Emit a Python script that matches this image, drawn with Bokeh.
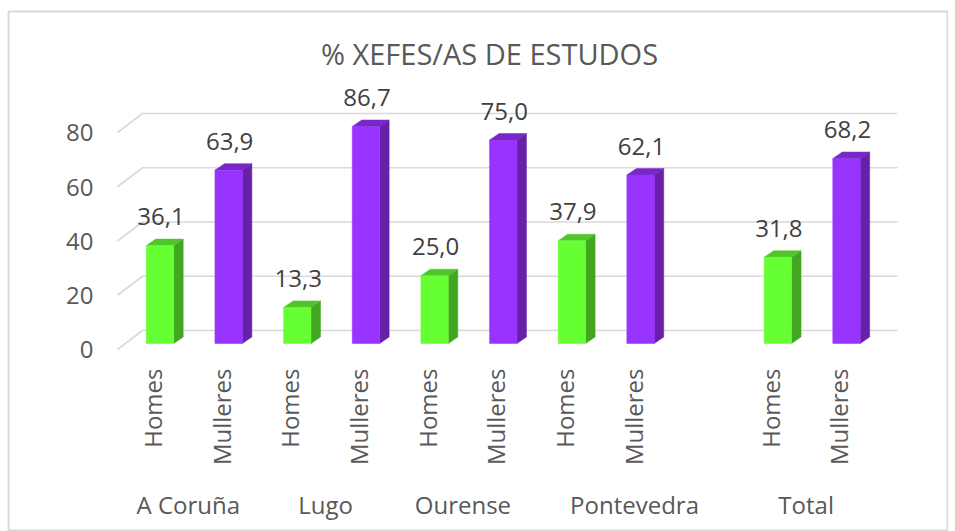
from bokeh.plotting import figure
from bokeh.models import Range1d
from bokeh.core.properties import value
from bokeh.embed import file_html
from bokeh.resources import INLINE
import math

# ---- data ----
title_text = "% XEFES/AS DE ESTUDOS"
groups = ["A Coruña", "Lugo", "Ourense", "Pontevedra", "Total"]
group_slots = [2, 2, 2, 3, 2]          # Pontevedra carries an empty category
sexes = ["Homes", "Mulleres"]
homes = [36.1, 13.3, 25.0, 37.9, 31.8]
mulleres = [63.9, 86.7, 75.0, 62.1, 68.2]
y_ticks = [0, 20, 40, 60, 80]
y_max = 80

# ---- geometry (frame 940 x 520 px, placed at page x=8, y=11) ----
W, H = 940, 520
LEFT, TOP = 8, 11
X0, X1 = -2.2068, 11.4858
Y0, Y1 = -69.309, 122.396
PX = (X1 - X0) / W
PY = (Y1 - Y0) / H

FONT = value("Open Sans")
GREEN = ("#66FF33", "#43A621", "#4FC52B")
PURPLE = ("#9933FF", "#6621A8", "#7828C6")

p = figure(width=W + LEFT, height=H + TOP, x_range=Range1d(X0, X1), y_range=Range1d(Y0, Y1),
           x_axis_type=None, y_axis_type=None, toolbar_location=None,
           output_backend="svg", title=None, min_border=0,
           min_border_left=LEFT, min_border_top=TOP)
p.outline_line_color = "#d9d9d9"
p.outline_line_width = 2
p.background_fill_color = "white"
p.border_fill_color = "white"

# ---- 3D grid ----
gx_front = (117 - 159.5) * PX
gx_back = (142 - 159.5) * PX
gx_end = (897 - 159.5) * PX
gxs, gys = [], []
for t in y_ticks:
    gxs.append([gx_front, gx_back, gx_end])
    gys.append([t - 6 * PY, t + 13 * PY, t + 13 * PY])
p.multi_line(gxs, gys, line_color="#d9d9d9", line_width=1.6)

p.text(x=[-0.9687] * len(y_ticks), y=[t - 6.5 * PY for t in y_ticks],
       text=[str(t) for t in y_ticks], text_align="right", text_baseline="middle",
       text_font=FONT, text_font_size="24px", text_color="#595959")

# ---- bars ----
hw = 13.7 * PX
dx = 9.5 * PX
dy = 6.5 * PY

bar_x, bar_v, bar_sex = [], [], []
group_centers = []
start = 0
for g, n, hv, mv in zip(groups, group_slots, homes, mulleres):
    bar_x += [start, start + 1]
    bar_v += [hv, mv]
    bar_sex += sexes
    group_centers.append(start + (n - 1) / 2)
    start += n

for x, v, s in zip(bar_x, bar_v, bar_sex):
    front, side, top = GREEN if s == "Homes" else PURPLE
    h = min(v, y_max)
    p.patch([x + hw, x + hw + dx, x + hw + dx, x + hw], [0, dy, h + dy, h],
            fill_color=side, line_color=side, line_width=0.5)
    p.patch([x - hw, x + hw, x + hw + dx, x - hw + dx], [h, h, h + dy, h + dy],
            fill_color=top, line_color=top, line_width=0.5)
    p.quad(left=[x - hw], right=[x + hw], bottom=[0], top=[h],
           fill_color=front, line_color=front, line_width=0.5)

labels = [f"{v:.1f}".replace(".", ",") for v in bar_v]
p.text(x=[x + 1 * PX for x in bar_x],
       y=[min(v, y_max) + dy + 22.5 * PY for v in bar_v],
       text=labels, text_align="center", text_baseline="middle",
       text_font=FONT, text_font_size="24px", text_color="#404040")

# ---- category axis ----
p.text(x=[x - 7.5 * PX for x in bar_x], y=[-25 * PY] * len(bar_x), text=bar_sex,
       angle=math.pi / 2, text_align="right", text_baseline="middle",
       text_font=FONT, text_font_size="24px", text_color="#595959")
p.text(x=[c - 6 * PX for c in group_centers], y=[-161 * PY] * len(groups), text=groups,
       text_align="center", text_baseline="middle",
       text_font=FONT, text_font_size="24px", text_color="#595959")

# ---- title ----
p.text(x=[(489 - 159.5) * PX], y=[290 * PY], text=[title_text],
       text_align="center", text_baseline="middle",
       text_font=FONT, text_font_size="29px", text_color="#595959")

open("out.html", "w").write(file_html(p, INLINE))
